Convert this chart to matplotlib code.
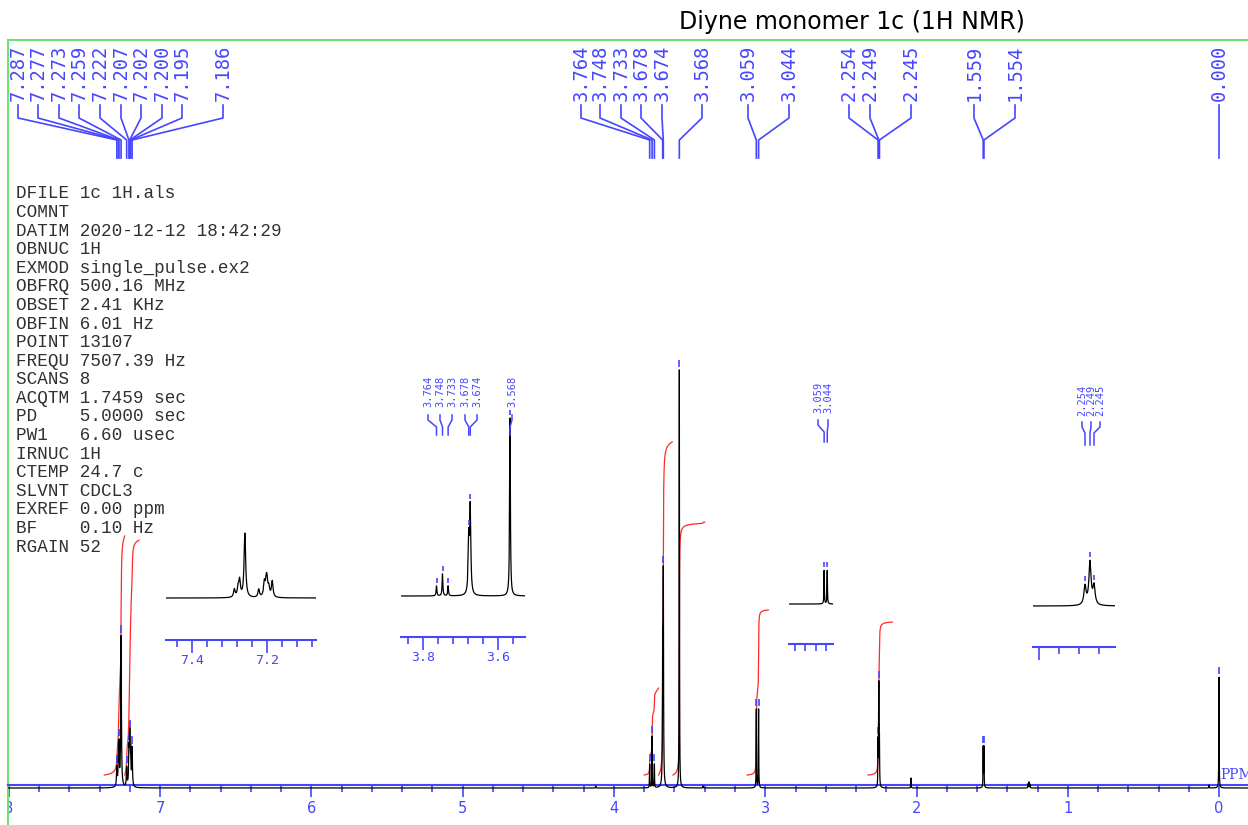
import numpy as np
import matplotlib
matplotlib.use("Agg")
import matplotlib.pyplot as plt
from matplotlib.ticker import MultipleLocator, FixedLocator, FormatStrFormatter, NullFormatter, FixedFormatter
from matplotlib.transforms import blended_transform_factory
from matplotlib.patches import Rectangle

title = "Diyne monomer 1c (1H NMR)"

# picked peaks: shift (ppm), height (3.568 singlet = 100), half width (ppm)
peak_ppm = [7.287, 7.277, 7.273, 7.259, 7.222, 7.207, 7.202, 7.200, 7.195, 7.186,
            3.764, 3.748, 3.733, 3.678, 3.674, 3.568,
            3.059, 3.044, 2.254, 2.249, 2.245, 1.559, 1.554, 0.000]
peak_height = [4.5, 5.0, 9.0, 36.0, 4.5, 8.0, 7.0, 7.0, 5.0, 9.0,
               5.6, 12.3, 5.6, 30.0, 48.0, 100.0,
               18.8, 18.8, 10.5, 24.0, 10.5, 9.6, 9.6, 26.5]
peak_hwhm = [0.0025, 0.0025, 0.0025, 0.0025, 0.0025, 0.0025, 0.0025, 0.0025, 0.0025, 0.0025,
             0.0012, 0.0012, 0.0012, 0.0018, 0.0018, 0.0012,
             0.0012, 0.0012, 0.0013, 0.0013, 0.0013, 0.0012, 0.0012, 0.0012]

# small unlabelled signals
minor_ppm = [4.121, 3.412, 2.037, 1.262, 1.256, 1.250, 0.066]
minor_height = [0.5, 0.5, 2.4, 1.0, 1.4, 0.9, 0.7]
minor_hwhm = [0.0012, 0.0012, 0.0012, 0.0012, 0.0012, 0.0012, 0.0012]

# integrals: region (ppm) and rise
integral_from = [7.37, 7.235, 3.80, 3.705, 3.61, 3.12, 2.32]
integral_to = [7.235, 7.14, 3.705, 3.615, 3.40, 2.98, 2.16]
integral_rise = [57.2, 56.2, 20.8, 79.7, 60.5, 39.5, 36.6]
integral_base = 3.1

params = ["DFILE 1c 1H.als", "COMNT", "DATIM 2020-12-12 18:42:29", "OBNUC 1H",
          "EXMOD single_pulse.ex2", "OBFRQ 500.16 MHz", "OBSET 2.41 KHz",
          "OBFIN 6.01 Hz", "POINT 13107", "FREQU 7507.39 Hz", "SCANS 8",
          "ACQTM 1.7459 sec", "PD    5.0000 sec", "PW1   6.60 usec", "IRNUC 1H",
          "CTEMP 24.7 c", "SLVNT CDCL3", "EXREF 0.00 ppm", "BF    0.10 Hz", "RGAIN 52"]

blue = '#4646ff'
red = '#ff2a2a'
green = '#70e070'

W, H = 1248, 825


def fx(px):
    return px / W


def fy(py):
    return 1 - py / H


all_ppm = peak_ppm + minor_ppm
all_height = peak_height + minor_height
all_hwhm = peak_hwhm + minor_hwhm


def spec(x):
    x = np.asarray(x, dtype=float)
    y = np.zeros_like(x)
    for c, h, w in zip(all_ppm, all_height, all_hwhm):
        y += h * w * w / ((x - c) ** 2 + w * w)
    return y


def px_to_ppm(px, left, right, xlim):
    return xlim[0] + (px - left) / (right - left) * (xlim[1] - xlim[0])


def draw_labels(ax, peaks, label_px, left, right, rows, size, lw):
    tr = blended_transform_factory(ax.transData, fig.transFigure)
    t_bot, l_top, b1, b2, l_bot = [fy(r) for r in rows]
    xlim = ax.get_xlim()
    for lp, p in zip(label_px, peaks):
        lx = px_to_ppm(lp, left, right, xlim)
        ax.plot([lx, lx, p, p], [l_top, b1, b2, l_bot], color=blue, lw=lw,
                transform=tr, clip_on=False)
        ax.text(lx, t_bot, f"{p:.3f}", rotation=90, ha='center', va='bottom',
                transform=tr, family='DejaVu Sans Mono', size=size, color=blue,
                clip_on=False)


def draw_marks(ax, peaks, gap, length):
    tops = spec(peaks)
    ax.vlines(peaks, tops + gap, tops + gap + length, color=blue, lw=1.2)


fig = plt.figure(figsize=(12.48, 8.25), dpi=100)

# ---- main spectrum ----
main_left, main_right, main_base = 8, 1248, 788
main_scale = 151.25       # px per ppm
unit = 4.18               # px per intensity unit
ax = fig.add_axes([fx(main_left), 0, 1 - fx(main_left), fy(40)])
ax.set_xlim(8 + (9 - main_left) / main_scale, 8 - (main_right - 9) / main_scale)
ax.set_ylim(-(H - main_base) / unit, (main_base - 40) / unit)

x = np.unique(np.concatenate([np.linspace(-0.2, 8.02, 120001), all_ppm]))
ax.plot(x, spec(x), color='black', lw=0.9, zorder=3)

for a, b, rise in zip(integral_from, integral_to, integral_rise):
    xr = np.linspace(a, b, 2000)
    cum = np.cumsum(spec(xr))
    ax.plot(xr, integral_base + rise * cum / cum[-1], color=red, lw=0.9, zorder=2)

draw_marks(ax, peak_ppm, 0.7, 1.7)

top_label_px = [18, 38, 59, 79, 100, 121, 141, 162, 182, 223,
                581, 600, 621, 641, 662, 702, 748, 789, 849, 870, 911, 974, 1015, 1219]
draw_labels(ax, peak_ppm, top_label_px, main_left, main_right,
            (101, 105, 118, 140, 158), 13.5, 1.2)

ax.spines['right'].set_visible(False)
ax.spines['left'].set_color(green)
ax.spines['top'].set_color(green)
ax.spines['left'].set_linewidth(1.5)
ax.spines['top'].set_linewidth(1.5)
ax.spines['bottom'].set_position(('data', 0.7))
ax.spines['bottom'].set_color(blue)
ax.spines['bottom'].set_linewidth(1.5)
ax.set_yticks([])
ax.xaxis.set_major_locator(MultipleLocator(1))
ax.xaxis.set_minor_locator(MultipleLocator(0.2))
ax.xaxis.set_major_formatter(FormatStrFormatter('%d'))
ax.tick_params(axis='x', which='major', direction='out', length=8.5, width=1.2,
               color=blue, labelcolor=blue, labelsize=10.5, pad=3)
ax.tick_params(axis='x', which='minor', direction='out', length=5, width=1.2, color=blue)
ax.set_facecolor('white')
ax.text(px_to_ppm(1220, main_left, main_right, ax.get_xlim()), (main_base - 775) / unit,
        "PPM", color=blue, family='DejaVu Serif', size=10, va='center', ha='left',
        clip_on=False)

# ---- expansions ----
inset_unit = 1.78
insets = [
    dict(px=(166, 316), base=598, axis=640, scale=375, ref=(7.4, 192),
         major=[7.4, 7.2], minor=[7.44, 7.36, 7.32, 7.28, 7.24, 7.16, 7.12, 7.08],
         ticklabels=['7.4', '7.2'], picks=[], label_px=[], rows=None),
    dict(px=(401, 525), base=596, axis=637, scale=375, ref=(3.8, 423),
         major=[3.8, 3.6], minor=[3.84, 3.76, 3.72, 3.68, 3.64, 3.56],
         ticklabels=['3.8', '3.6'], picks=[3.764, 3.748, 3.733, 3.678, 3.674, 3.568],
         label_px=[428, 440, 452, 465, 477, 512], rows=(407, 415, 420, 427, 435)),
    dict(px=(789, 833), base=604, axis=644, scale=206, ref=(3.05, 826),
         major=[], minor=[3.2, 3.15, 3.1, 3.05],
         ticklabels=[], picks=[3.059, 3.044],
         label_px=[818, 828], rows=(413, 420, 425, 432, 442)),
    dict(px=(1033, 1115), base=606, axis=647, scale=1000, ref=(2.3, 1039),
         major=[2.3], minor=[2.28, 2.26, 2.24],
         ticklabels=[], picks=[2.254, 2.249, 2.245],
         label_px=[1082, 1091, 1100], rows=(416, 422, 427, 433, 445)),
]

for ins in insets:
    left, right = ins['px']
    top = 360
    iax = fig.add_axes([fx(left), fy(ins['axis']), fx(right) - fx(left),
                        fy(top) - fy(ins['axis'])])
    rp, rx = ins['ref']
    xlim = (rp + (rx - left) / ins['scale'], rp - (right - rx) / ins['scale'])
    iax.set_xlim(xlim)
    iax.set_ylim(-(ins['axis'] - ins['base']) / inset_unit, (ins['base'] - top) / inset_unit)
    xi = np.unique(np.concatenate([np.linspace(xlim[1], xlim[0], 6001),
                                   [p for p in all_ppm if xlim[1] < p < xlim[0]]]))
    iax.plot(xi, spec(xi), color='black', lw=0.9)
    if ins['picks']:
        draw_marks(iax, ins['picks'], 3 / inset_unit, 5 / inset_unit)
        draw_labels(iax, ins['picks'], ins['label_px'], left, right, ins['rows'], 7.5, 1.1)
    for s in ['left', 'right', 'top']:
        iax.spines[s].set_visible(False)
    iax.spines['bottom'].set_color(blue)
    iax.spines['bottom'].set_linewidth(1.5)
    iax.set_yticks([])
    iax.xaxis.set_major_locator(FixedLocator(ins['major']))
    iax.xaxis.set_minor_locator(FixedLocator(ins['minor']))
    if ins['ticklabels']:
        iax.xaxis.set_major_formatter(FixedFormatter(ins['ticklabels']))
    else:
        iax.xaxis.set_major_formatter(NullFormatter())
    iax.tick_params(axis='x', which='major', direction='out', length=9, width=1.2,
                    color=blue, labelcolor=blue, labelsize=9.5, pad=1)
    iax.tick_params(axis='x', which='minor', direction='out', length=5, width=1.2, color=blue)
    for lbl in iax.get_xticklabels():
        lbl.set_family('DejaVu Sans Mono')
    iax.patch.set_visible(False)

# ---- text ----
fig.text(fx(852), fy(22), title, ha='center', va='center', size=17)
for i, line in enumerate(params):
    fig.text(fx(16), fy(194 + i * 18.58), line, ha='left', va='center',
             family='Liberation Mono', size=12.7, color='#303030')

# hide the half of the "8" that falls left of the frame
fig.add_artist(Rectangle((0, 0), fx(7), fy(790), transform=fig.transFigure,
                         facecolor='white', edgecolor='none', zorder=5))

fig.savefig("out.png", dpi=100)
